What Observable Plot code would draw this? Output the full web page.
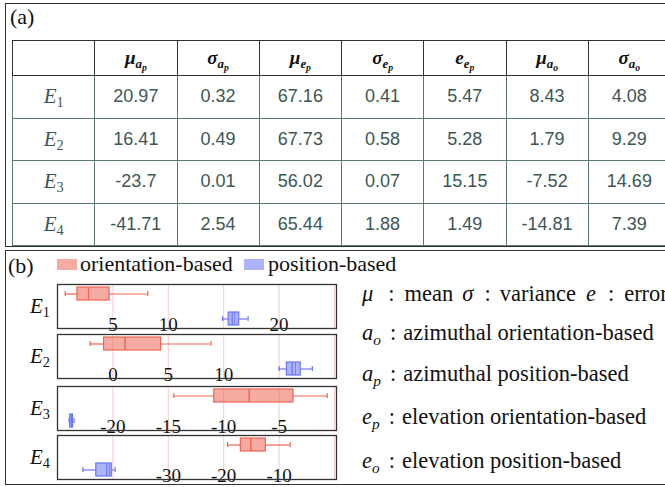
<!DOCTYPE html>
<html><head><meta charset="utf-8">
<script src="https://cdn.jsdelivr.net/npm/d3@7"></script>
<script src="https://cdn.jsdelivr.net/npm/@observablehq/plot@0.6"></script>
<style>
html,body{margin:0;padding:0;background:#fff;overflow:hidden;}
#root{position:relative;width:665px;height:487px;overflow:hidden;font-family:"Liberation Serif",serif;color:#111;}
.abs{position:absolute;white-space:nowrap;}
.frameA{position:absolute;left:5px;top:3px;width:720px;height:242px;border:1.5px solid #333;border-right:none;}
.frameB{position:absolute;left:5px;top:250px;width:720px;height:233px;border:1.5px solid #333;border-right:none;}
table{position:absolute;left:12px;top:40px;width:658px;border-collapse:collapse;table-layout:fixed;}
th,td{padding:0;text-align:center;}
th{height:34px;border:1.5px solid #333;font-family:"Liberation Serif",serif;font-size:19px;font-weight:bold;color:#111;}
td{height:41.5px;border:1.5px solid #5d7878;font-family:"Liberation Sans",Arial,sans-serif;font-size:18px;color:#3d5656;}
td.rl{font-family:"Liberation Serif",serif;font-size:21px;font-style:italic;}
sub{font-size:68%;vertical-align:-0.3em;line-height:0;}
sub sub{font-size:75%;}
.sw{position:absolute;width:20px;height:11px;}
.note{font-size:22.5px;}
.plotbox{position:absolute;left:56px;}
.elab{position:absolute;left:30px;font-size:21px;font-style:italic;}
</style></head>
<body><div id="root">
<div class="frameA"></div>
<div class="frameB"></div>
<div class="abs" style="left:10px;top:4px;font-size:22px;">(a)</div>
<div class="abs" style="left:8px;top:253px;font-size:22px;">(b)</div>
<table id="tbl"></table>
<div id="legend"></div>
<div id="panels"></div>
<div id="notes"></div>
</div>
<script>
// ---------- table data ----------
const rowLabels = ["1", "2", "3", "4"]; // E subscripts
const colSymbols = ["μ", "σ", "μ", "σ", "e", "μ", "σ"];
const colSub = ["a", "a", "e", "e", "e", "a", "a"];
const colSubSub = ["p", "p", "p", "p", "p", "o", "o"];
const mu_ap = ["20.97", "16.41", "-23.7", "-41.71"];
const sigma_ap = ["0.32", "0.49", "0.01", "2.54"];
const mu_ep = ["67.16", "67.73", "56.02", "65.44"];
const sigma_ep = ["0.41", "0.58", "0.07", "1.88"];
const e_ep = ["5.47", "5.28", "15.15", "1.49"];
const mu_ao = ["8.43", "1.79", "-7.52", "-14.81"];
const sigma_ao = ["4.08", "9.29", "14.69", "7.39"];

// ---------- box plot data (per experiment: [orientation-based, position-based]) ----------
const methods = ["orientation-based", "position-based"];
const whiskerLow  = [[0.7, 14.9], [-2.05, 15.0], [-14.5, -23.95], [-19.3, -45.4]];
const q1          = [[1.8, 15.45], [-0.8, 15.7], [-10.85, -23.85], [-16.9, -43.0]];
const median      = [[2.8, 15.77], [1.1, 16.17], [-7.7, -23.75], [-15.1, -41.1]];
const mean        = [[2.8, 16.0], [1.1, 16.48], [-7.7, -23.7], [-15.1, -40.6]];
const q3          = [[4.7, 16.4], [4.35, 16.95], [-3.7, -23.6], [-12.4, -40.2]];
const whiskerHigh = [[8.15, 17.2], [8.85, 18.0], [-0.65, -23.5], [-8.0, -39.6]];
const xDomains = [[0, 25], [-5, 20], [-25, 0], [-50, 0]];
const gridValues = [[0, 5, 10, 15, 20, 25], [-5, 0, 5, 10, 15, 20], [-25, -20, -15, -10, -5, 0], [-50, -40, -30, -20, -10, 0]];
const tickLabels = [[5, 10, 20], [0, 5, 10], [-20, -15, -10, -5], [-30, -20, -10]];

const redBase = "#ef6656", blueBase = "#6b76f2";

// ---------- table ----------
const tbl = document.getElementById("tbl");
let html = "<colgroup>" + "<col style='width:82.25px'>".repeat(8) + "</colgroup><tr><th></th>";
colSymbols.forEach((s, i) => {
  html += `<th><i>${s}</i><sub><i>${colSub[i]}</i><sub><i>${colSubSub[i]}</i></sub></sub></th>`;
});
html += "<th></th></tr>";
const cols = [mu_ap, sigma_ap, mu_ep, sigma_ep, e_ep, mu_ao, sigma_ao];
rowLabels.forEach((r, i) => {
  html += `<tr><td class="rl">E<sub style="font-style:normal">${r}</sub></td>`;
  cols.forEach(c => html += `<td>${c[i]}</td>`);
  html += "<td></td></tr>";
});
tbl.innerHTML = html;

// ---------- legend ----------
document.getElementById("legend").innerHTML =
  `<div class="sw" style="left:57px;top:259px;background:${redBase};opacity:0.55"></div>
   <div class="abs" style="left:80px;top:251px;font-size:22px;">${methods[0]}</div>
   <div class="sw" style="left:244px;top:259px;background:${blueBase};opacity:0.55"></div>
   <div class="abs" style="left:268px;top:251px;font-size:22px;">${methods[1]}</div>`;

// ---------- panels ----------
const panelTops = [283, 333, 385, 434];
const panels = document.getElementById("panels");
for (let i = 0; i < 4; i++) {
  const rows = methods.map((m, j) => ({
    method: m, low: whiskerLow[i][j], q1: q1[i][j], med: median[i][j],
    mean: mean[i][j], q3: q3[i][j], high: whiskerHigh[i][j]
  }));
  const colorOpts = {domain: methods, range: [redBase, blueBase]};
  const svg = Plot.plot({
    width: 281, height: 46,
    marginLeft: 1, marginRight: 3, marginTop: 1, marginBottom: 1,
    x: {domain: xDomains[i], axis: null},
    y: {domain: methods, range: [4, 42], paddingInner: 0.48, paddingOuter: 0, axis: null},
    color: colorOpts,
    style: {background: "transparent", overflow: "visible"},
    marks: [
      Plot.ruleX(gridValues[i], {stroke: "#f6cccc", strokeWidth: 1}),
      Plot.text(tickLabels[i], {x: d => d, frameAnchor: "bottom", lineAnchor: "bottom", dy: 2,
        fontSize: 19, fontFamily: "Liberation Serif", fill: "#111"}),
      Plot.ruleY(rows, {y: "method", x1: "low", x2: "q1", stroke: "method", strokeWidth: 1.2}),
      Plot.ruleY(rows, {y: "method", x1: "q3", x2: "high", stroke: "method", strokeWidth: 1.2}),
      Plot.tickX(rows, {x: "low", y: "method", stroke: "method", insetTop: 4, insetBottom: 4, strokeWidth: 1.2}),
      Plot.tickX(rows, {x: "high", y: "method", stroke: "method", insetTop: 4, insetBottom: 4, strokeWidth: 1.2}),
      Plot.barX(rows, {x1: "q1", x2: "q3", y: "method", fill: "method", fillOpacity: 0.55, stroke: "method", strokeWidth: 1.2}),
      Plot.tickX(rows, {x: "med", y: "method", stroke: "method", strokeWidth: 1.2}),
      Plot.tickX(rows, {x: "mean", y: "method", stroke: "method", strokeWidth: 1, strokeOpacity: 0.8}),
      Plot.frame({stroke: "#333", strokeWidth: 1.3, insetRight: -2})
    ]
  });
  const div = document.createElement("div");
  div.className = "plotbox";
  div.style.top = panelTops[i] + "px";
  div.appendChild(svg);
  panels.appendChild(div);
  const lab = document.createElement("div");
  lab.className = "elab";
  lab.style.top = (panelTops[i] + 11) + "px";
  lab.innerHTML = `E<sub style="font-style:normal">${rowLabels[i]}</sub>`;
  panels.appendChild(lab);
}

// ---------- notes ----------
const ml = (px, t) => `<span style="margin-left:${px}px">${t}</span>`;
const noteLines = [
  `<i>μ</i>${ml(15, ":")}${ml(10, "mean")}<i style="margin-left:9px">σ</i>${ml(11, ":")}${ml(9, "variance")}<i style="margin-left:10px">e</i>${ml(12, ":")}${ml(10, "error")}`,
  `<i>a<sub>o</sub></i>${ml(9, ":")}${ml(7, "azimuthal orientation-based")}`,
  `<i>a<sub>p</sub></i>${ml(9, ":")}${ml(7, "azimuthal position-based")}`,
  `<i>e<sub>p</sub></i>${ml(9, ":")}${ml(7, "elevation orientation-based")}`,
  `<i>e<sub>o</sub></i>${ml(9, ":")}${ml(7, "elevation position-based")}`
];
const noteTops = [281, 320, 361, 404, 448];
document.getElementById("notes").innerHTML = noteLines.map((t, i) =>
  `<div class="abs note" style="left:362px;top:${noteTops[i]}px;">${t}</div>`).join("");
</script>
</body></html>
